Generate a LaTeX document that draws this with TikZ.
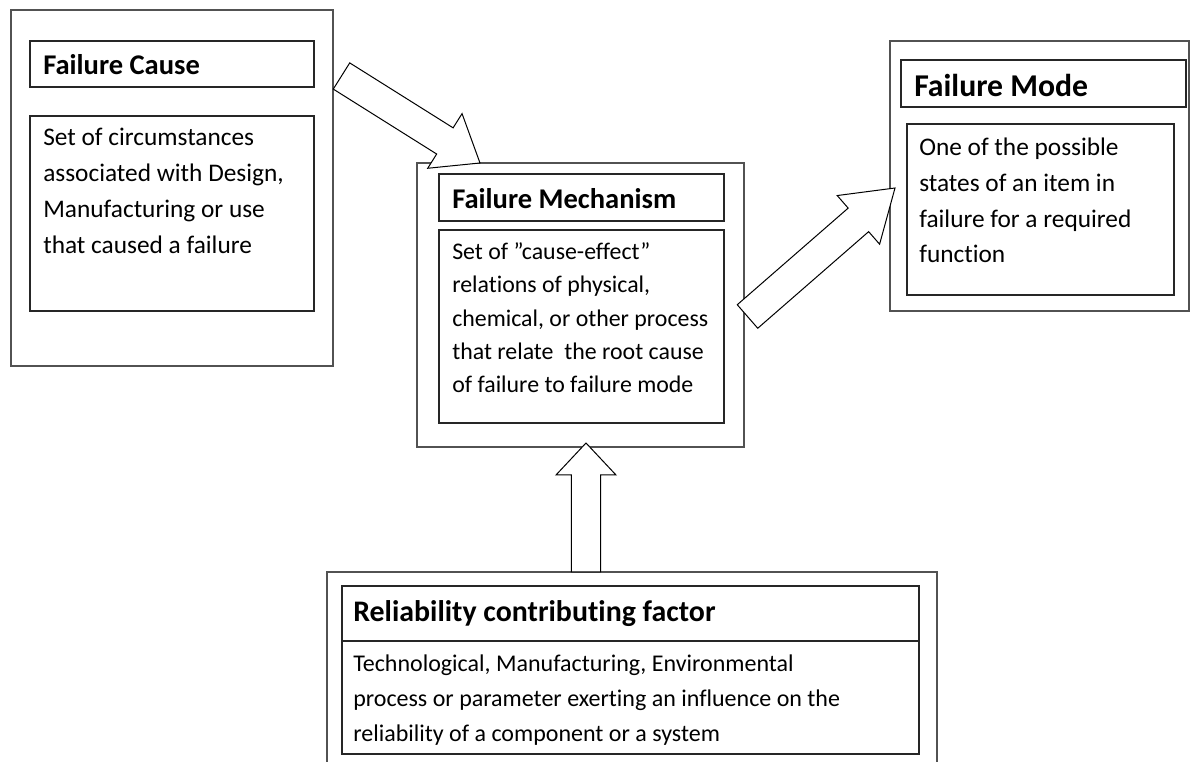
\documentclass[tikz,border=0pt]{standalone}
\usepackage{fontspec}
\setmainfont{Carlito}[Ligatures=NoCommon]
\usetikzlibrary{calc,fit}

% hollow block arrow: #1 tail centre, #2 tip, #3 shaft half width,
% #4 head half width, #5 head length
\newcommand\blockarrow[5]{%
  \coordinate (hb) at ($(#2)!#5!(#1)$);
  \draw[blockarrowstyle]
    ($(#1)!#3!90:(#2)$) -- ($(hb)!#3!90:(#2)$) -- ($(hb)!#4!90:(#2)$) -- (#2)
    -- ($(hb)!#4!-90:(#2)$) -- ($(hb)!#3!-90:(#2)$) -- ($(#1)!#3!-90:(#2)$) -- cycle;
}

\begin{document}
\begin{tikzpicture}[x=0.75pt,y=-0.75pt,
  outerbox/.style={draw=black!68, line width=0.95pt, inner sep=0pt},
  innerbox/.style={draw=black!85, line width=0.9pt, inner sep=0pt},
  blockarrowstyle/.style={draw=black, line width=0.75pt, fill=white, line join=miter},
  titletext/.style={inner sep=0pt, anchor=base west, font=\bfseries\fontsize{#1}{#1}\selectfont},
  % multi-line text is placed by the baseline of its last line
  bodytext/.style 2 args={inner sep=0pt, anchor=base west, align=left,
    font=\fontsize{#1}{#2}\selectfont}]

\fill[white] (0,0) rectangle (1190,762);
\useasboundingbox (0,0) rectangle (1190,762);

% Failure Cause
\node[outerbox, fit={(11,10) (333,366)}] (cause) {};
\node[innerbox, fit={(30,41) (314,87)}] (causeHead) {};
\node[innerbox, fit={(30,116) (314,311)}] (causeBody) {};
\node[titletext=21.4] (causeTitle) at (43,75) {Failure Cause};
\node[bodytext={19}{27}] (causeText) at (43,254)
  {Set of circumstances\\associated with Design,\\Manufacturing or use\\that caused a failure};

% Failure Mechanism
\node[outerbox, fit={(417,163) (744,447)}] (mech) {};
\node[innerbox, fit={(439,174) (724,221)}] (mechHead) {};
\node[innerbox, fit={(439,230) (724,423)}] (mechBody) {};
\node[titletext=21.4] (mechTitle) at (452,209) {Failure Mechanism};
\node[bodytext={17.9}{25.1}] (mechText) at (452,393)
  {Set of ”cause-effect”\\relations of physical,\\chemical, or other process\\that relate\ \ the root cause\\of failure to failure mode};

% Failure Mode
\node[outerbox, fit={(890,41) (1189,311)}] (mode) {};
\node[innerbox, fit={(901,60) (1186,107)}] (modeHead) {};
\node[innerbox, fit={(907,124) (1174,295)}] (modeBody) {};
\node[titletext=23.8] (modeTitle) at (914,97) {Failure Mode};
\node[bodytext={19}{26.8}] (modeText) at (919,263)
  {One of the possible\\states of an item in\\failure for a required\\function};

% Reliability contributing factor
\node[outerbox, fit={(327,572) (937,790)}] (rel) {};
\node[innerbox, fit={(342,586) (919,641)}] (relHead) {};
\node[innerbox, fit={(342,641) (919,754)}] (relBody) {};
\node[titletext=22.4] (relTitle) at (353,622) {Reliability contributing factor};
\node[bodytext={18}{26.25}] (relText) at (353,742)
  {Technological, Manufacturing, Environmental\\process or parameter exerting an influence on the\\reliability of a component or a system};

% block arrows between the boxes
\coordinate (a1s) at (341.5,76);
\coordinate (a1e) at (480,163);
\coordinate (a2s) at (747.5,316.5);
\coordinate (a2e) at (895,188);
\coordinate (a3s) at (586,572);
\coordinate (a3e) at (586,443);
\blockarrow{a1s}{a1e}{11.6pt}{24.2pt}{31.1pt}
\blockarrow{a2s}{a2e}{11.7pt}{24.2pt}{36.4pt}
\blockarrow{a3s}{a3e}{10.9pt}{22.5pt}{24pt}
\end{tikzpicture}
\end{document}
